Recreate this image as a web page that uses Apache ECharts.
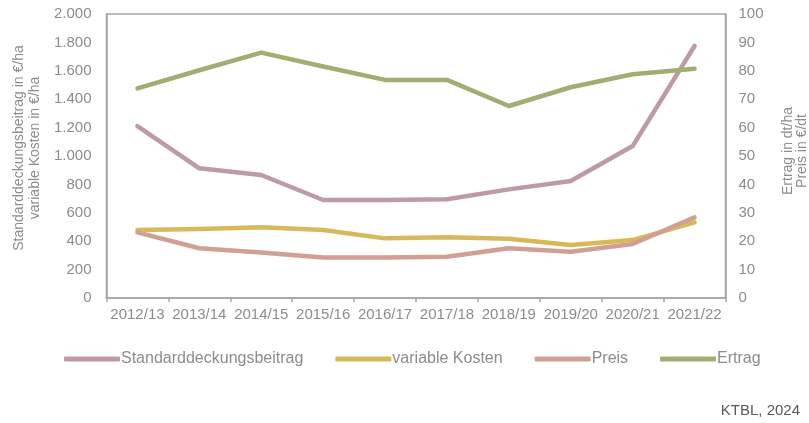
<!DOCTYPE html>
<html lang="de">
<head>
    <meta charset="UTF-8">
    <title>Standarddeckungsbeitrag</title>
    <script src="https://cdn.jsdelivr.net/npm/echarts@6/dist/echarts.min.js"></script>
    <style>
        html, body { margin: 0; padding: 0; background: #fff; }
        #chart { width: 809px; height: 423px; }
    </style>
</head>
<body>
    <div id="chart"></div>
<script type="text/javascript">
    // Wirtschaftsjahre
    var jahre = ['2012/13', '2013/14', '2014/15', '2015/16', '2016/17', '2017/18', '2018/19', '2019/20', '2020/21', '2021/22'];
    // €/ha (linke Achse)
    var standarddeckungsbeitrag = [1211, 913, 866, 690, 690, 695, 765, 824, 1070, 1775];
    var variableKosten = [479, 486, 498, 479, 420, 427, 418, 373, 408, 533];
    // €/dt bzw. dt/ha (rechte Achse)
    var preis = [23.1, 17.5, 16.0, 14.3, 14.3, 14.5, 17.5, 16.3, 19.0, 28.4];
    var ertrag = [73.8, 80.2, 86.4, 81.5, 76.8, 76.8, 67.6, 74.2, 78.8, 80.7];

    var grau = '#8c8c8c';
    var font = 'Liberation Sans, Arial, sans-serif';

    var chart = echarts.init(document.getElementById('chart'));

    function linie(name, data, color, yIndex) {
        return {
            name: name,
            type: 'line',
            yAxisIndex: yIndex,
            data: data,
            symbol: 'none',
            smooth: false,
            lineStyle: { color: color, width: 4.5, cap: 'round', join: 'round' },
            itemStyle: { color: color }
        };
    }

    var option = {
        animation: false,
        textStyle: { fontFamily: font },
        grid: {
            left: 106.5,
            right: 83.5,
            top: 14,
            bottom: 125,
            show: true,
            borderColor: '#a6a6a6',
            borderWidth: 1.5
        },
        legend: {
            left: 64,
            top: 351,
            padding: 0,
            itemWidth: 56,
            itemHeight: 5,
            itemGap: 32,
            icon: 'roundRect',
            textStyle: { color: grau, fontSize: 16, fontFamily: font, padding: [0, 0, 0, -4] },
            data: ['Standarddeckungsbeitrag', 'variable Kosten', 'Preis', 'Ertrag']
        },
        xAxis: {
            type: 'category',
            data: jahre,
            boundaryGap: true,
            axisLine: { lineStyle: { color: '#a6a6a6', width: 1.5 } },
            axisTick: { show: true, length: 4, lineStyle: { color: '#a6a6a6', width: 1.5 } },
            axisLabel: { color: grau, fontSize: 15, margin: 9, interval: 0 }
        },
        yAxis: [{
            type: 'value',
            min: 0,
            max: 2000,
            interval: 200,
            splitLine: { show: false },
            axisLine: { show: true, lineStyle: { color: '#a6a6a6', width: 1.5 } },
            axisTick: { show: false },
            axisLabel: {
                color: grau, fontSize: 15, margin: 15,
                formatter: function (v) { return v.toString().replace(/\B(?=(\d{3})+(?!\d))/g, '.'); }
            }
        }, {
            type: 'value',
            min: 0,
            max: 100,
            interval: 10,
            position: 'right',
            splitLine: { show: false },
            axisLine: { show: true, lineStyle: { color: '#a6a6a6', width: 1.5 } },
            axisTick: { show: false },
            axisLabel: { color: grau, fontSize: 15, margin: 13 }
        }],
        graphic: [{
            type: 'text', x: 19, y: 148, rotation: Math.PI / 2,
            style: { text: 'Standarddeckungsbeitrag in €/ha', fill: grau, font: '14px ' + font, textAlign: 'center', textVerticalAlign: 'middle' }
        }, {
            type: 'text', x: 35, y: 148, rotation: Math.PI / 2,
            style: { text: 'variable Kosten in €/ha', fill: grau, font: '14px ' + font, textAlign: 'center', textVerticalAlign: 'middle' }
        }, {
            type: 'text', x: 788, y: 151, rotation: Math.PI / 2,
            style: { text: 'Ertrag in dt/ha', fill: grau, font: '14px ' + font, textAlign: 'center', textVerticalAlign: 'middle' }
        }, {
            type: 'text', x: 802, y: 151, rotation: Math.PI / 2,
            style: { text: 'Preis in €/dt', fill: grau, font: '14px ' + font, textAlign: 'center', textVerticalAlign: 'middle' }
        }, {
            type: 'text', right: 9, top: 403,
            style: { text: 'KTBL, 2024', fill: '#595959', font: '15px ' + font }
        }],
        series: [
            linie('Standarddeckungsbeitrag', standarddeckungsbeitrag, '#be9aa5', 0),
            linie('variable Kosten', variableKosten, '#d8b95a', 0),
            linie('Preis', preis, '#cfa093', 1),
            linie('Ertrag', ertrag, '#a0ad73', 1)
        ]
    };
    chart.setOption(option);
</script>
</body>
</html>
